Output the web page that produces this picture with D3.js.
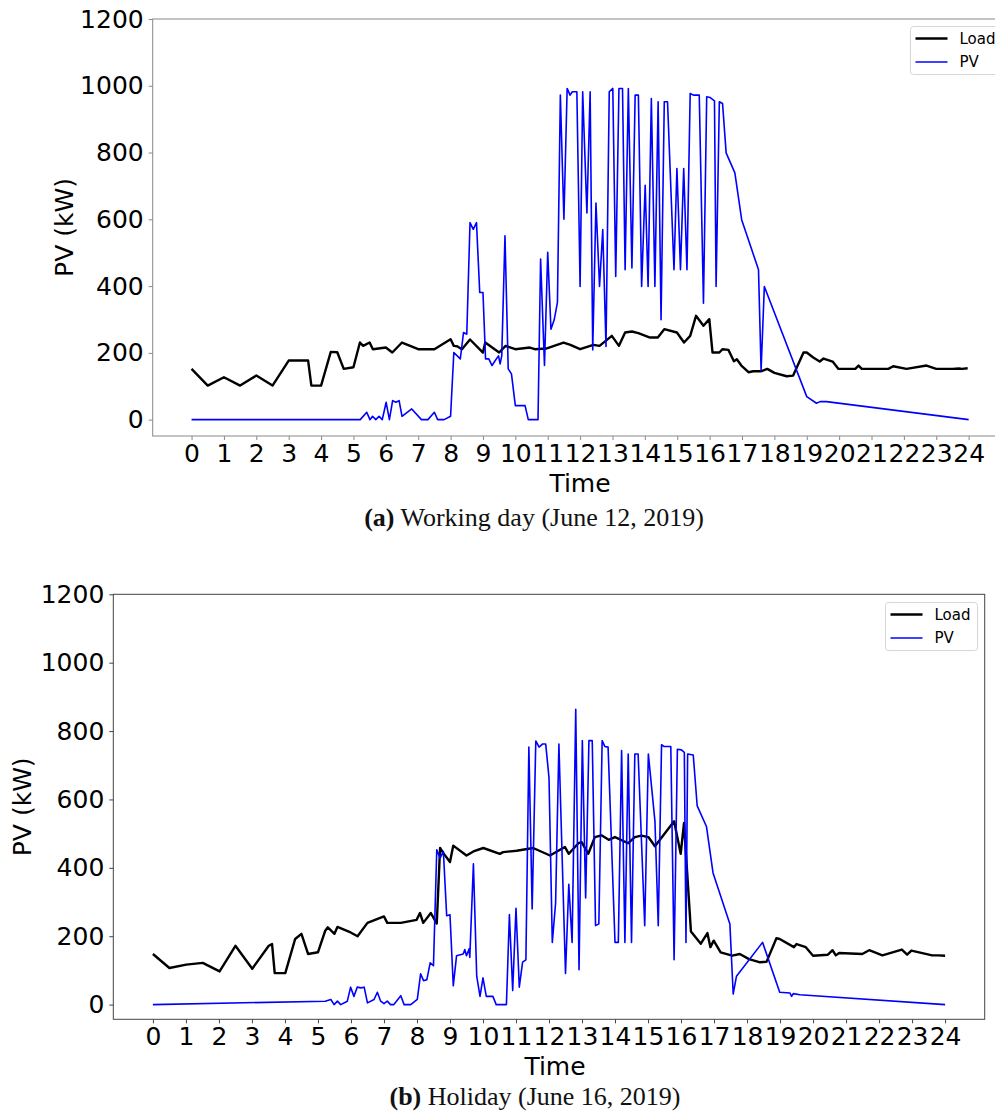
<!DOCTYPE html>
<html>
<head>
<meta charset="utf-8">
<script src="https://cdn.jsdelivr.net/npm/d3@7/dist/d3.min.js"></script>
<style>
  html, body { margin: 0; padding: 0; background: #fff; }
  svg { display: block; }
</style>
</head>
<body>
<svg id="chart" width="995" height="1111"></svg>
<script>
// ---------- DATA ----------
const xTicks = d3.range(0, 25);
const yTicks = [0, 200, 400, 600, 800, 1000, 1200];
const seriesNames = ["Load", "PV"];

// (a) Working day (June 12, 2019)
const loadA_t = [0,0.5,1,1.5,2,2.5,3,3.6,3.7,4,4.3,4.5,4.7,5,5.2,5.3,5.5,5.6,6,6.2,6.5,7,7.5,8,8.1,8.2,8.35,8.6,9,9.07,9.5,9.7,10,10.45,10.6,10.95,11.49,11.7,12.0,12.41,12.6,12.98,13.2,13.39,13.6,13.8,14.16,14.4,14.6,14.99,15.21,15.4,15.58,15.81,15.99,16.09,16.3,16.4,16.58,16.75,16.84,16.98,17.2,17.35,17.6,17.78,18.0,18.38,18.58,18.9,19.0,19.2,19.4,19.52,19.8,19.98,20.5,20.6,20.7,21.52,21.67,22.08,22.7,23.0,23.5,23.7,23.8,23.97];
const loadA_v = [152,102,127,102,132,102,177,177,102,102,203,202,152,157,231,221,231,211,216,201,231,211,211,241,221,220,211,240,201,231,201,221,211,216,211,213,231,224,211,224,221,251,221,261,264,259,246,246,271,261,231,251,311,281,301,201,201,211,209,175,181,162,142,145,145,152,140,130,132,201,201,186,174,183,174,152,152,162,152,152,160,152,162,152,152,153,152,154];
const pvA_t = [0,5.21,5.41,5.51,5.59,5.69,5.79,5.89,6.01,6.11,6.21,6.31,6.41,6.5,6.8,7.1,7.3,7.5,7.6,7.8,8.0,8.1,8.3,8.4,8.5,8.6,8.7,8.8,8.9,9.0,9.08,9.18,9.28,9.38,9.48,9.53,9.58,9.68,9.78,9.88,10.0,10.3,10.4,10.7,10.78,10.9,11.0,11.1,11.2,11.3,11.39,11.5,11.6,11.69,11.76,11.9,12.0,12.08,12.21,12.31,12.39,12.49,12.6,12.7,12.8,12.9,13.01,13.1,13.2,13.31,13.39,13.49,13.6,13.7,13.8,13.9,14.01,14.1,14.2,14.31,14.41,14.5,14.6,14.7,14.9,14.99,15.1,15.2,15.3,15.4,15.5,15.68,15.81,15.91,16.01,16.15,16.2,16.3,16.4,16.51,16.78,16.99,17.51,17.59,17.69,19.0,19.3,19.41,19.61,24.0];
const pvA_v = [0,0,22,0,10,0,10,0,52,0,57,52,57,10,32,0,0,22,0,0,10,201,182,261,256,590,570,590,381,381,182,182,162,177,191,167,191,551,152,137,42,42,0,0,481,162,501,271,299,351,972,600,992,972,982,982,399,982,619,982,209,649,399,569,219,982,992,429,992,992,449,992,454,972,972,399,702,399,962,399,952,299,952,952,449,752,449,752,449,977,972,972,349,967,965,955,399,952,947,799,739,599,449,149,399,69,49,54,54,0];

// (b) Holiday (June 16, 2019)
const loadB_t = [0,0.5,1.01,1.51,2.02,2.5,3.01,3.51,3.61,3.69,4.01,4.31,4.5,4.7,5.0,5.22,5.3,5.5,5.59,5.99,6.2,6.5,7.0,7.1,7.51,7.99,8.09,8.19,8.42,8.6,8.7,8.8,9.0,9.1,9.5,9.71,10.01,10.51,10.61,11.02,11.52,12.03,12.48,12.6,12.89,12.99,13.19,13.39,13.59,13.81,14.0,14.4,14.6,14.8,15.01,15.21,15.79,15.99,16.09,16.3,16.6,16.8,16.89,16.99,17.2,17.55,17.78,18.06,18.37,18.59,18.89,18.99,19.42,19.5,19.78,20.0,20.45,20.59,20.69,20.79,21.49,21.7,22.1,22.69,22.85,22.98,23.61,23.79,24.0];
const loadB_v = [148,107,117,122,97,172,105,172,177,92,92,192,207,148,153,216,226,207,227,211,200,239,258,239,239,248,268,239,268,237,458,443,417,465,436,448,458,441,446,450,458,436,461,441,472,475,441,490,495,482,490,472,490,494,490,463,536,441,531,214,178,209,168,187,153,143,148,133,124,125,194,192,168,177,168,143,146,159,144,151,148,159,144,161,146,158,144,144,143];
const pvB_t = [0,5.22,5.39,5.49,5.59,5.69,5.89,5.99,6.09,6.19,6.3,6.4,6.5,6.7,6.8,6.9,7.0,7.1,7.2,7.3,7.51,7.61,7.81,8.01,8.11,8.2,8.3,8.4,8.5,8.6,8.7,8.8,8.9,9.0,9.1,9.2,9.4,9.45,9.5,9.58,9.6,9.71,9.81,9.91,10.0,10.1,10.3,10.4,10.71,10.8,10.9,11.0,11.1,11.2,11.3,11.39,11.49,11.6,11.7,11.8,11.9,12.0,12.1,12.2,12.3,12.5,12.6,12.7,12.81,12.91,13.01,13.11,13.21,13.31,13.41,13.51,13.61,13.69,13.79,14.0,14.1,14.2,14.3,14.4,14.5,14.6,14.7,14.9,15.01,15.21,15.31,15.41,15.48,15.69,15.79,15.89,16.01,16.1,16.15,16.2,16.37,16.49,16.77,16.97,17.48,17.58,17.68,18.47,18.99,19.3,19.35,19.4,19.6,24.0];
const pvB_v = [0,10,15,0,10,0,10,51,24,51,49,51,5,15,36,10,3,10,0,0,26,0,0,15,90,70,73,122,114,453,428,448,260,263,55,143,148,161,143,163,138,412,83,24,78,24,24,0,0,263,41,282,51,124,131,753,280,771,753,762,762,664,182,297,762,91,352,182,864,102,772,312,772,772,231,236,772,755,753,182,182,743,182,733,182,733,733,231,733,536,231,760,755,755,131,747,745,738,182,733,730,581,521,385,236,31,83,182,36,34,24,32,29,0];

// ---------- DRAW ----------
const svg = d3.select("#chart");
const sans = "'DejaVu Sans', sans-serif";
const serif = "'Liberation Serif', 'Times New Roman', serif";

function drawPanel(cfg) {
  const x = d3.scaleLinear().domain([-1.2, 25.2]).range([cfg.left, cfg.right]);
  const y = d3.scaleLinear().domain([cfg.yMin, 1200]).range([cfg.bottom, cfg.top]);
  const g = svg.append("g");

  const line = d3.line().x(d => x(d[0])).y(d => y(d[1]));
  const loadData = cfg.loadT.map((t, i) => [t, cfg.loadV[i]]);
  const pvData = cfg.pvT.map((t, i) => [t, cfg.pvV[i]]);

  g.append("path").datum(loadData).attr("d", line)
    .attr("fill", "none").attr("stroke", "#000").attr("stroke-width", 2.4)
    .attr("stroke-linejoin", "round");
  g.append("path").datum(pvData).attr("d", line)
    .attr("fill", "none").attr("stroke", "#0000ff").attr("stroke-width", 1.6)
    .attr("stroke-linejoin", "round");

  // frame
  g.append("rect").attr("x", cfg.left).attr("y", cfg.top)
    .attr("width", cfg.right - cfg.left).attr("height", cfg.bottom - cfg.top)
    .attr("fill", "none").attr("stroke", cfg.spine).attr("stroke-width", 1);

  const xAxis = g.append("g").attr("transform", `translate(0,${cfg.bottom})`)
    .call(d3.axisBottom(x).tickValues(xTicks).tickFormat(d3.format("d")).tickSize(4).tickPadding(4));
  const yAxis = g.append("g").attr("transform", `translate(${cfg.left},0)`)
    .call(d3.axisLeft(y).tickValues(yTicks).tickFormat(d3.format("d")).tickSize(4).tickPadding(5));
  [xAxis, yAxis].forEach(a => {
    a.select(".domain").remove();
    a.selectAll(".tick line").attr("stroke", cfg.spine);
    a.selectAll(".tick text").attr("fill", "#000")
      .style("font-family", sans).style("font-size", "25px");
  });

  g.append("text").attr("x", cfg.xlabelX).attr("y", cfg.bottom + 56)
    .attr("text-anchor", "middle").style("font-family", sans).style("font-size", "25px")
    .text("Time");
  g.append("text").attr("transform", `translate(${cfg.ylabelX},${(cfg.top + cfg.bottom) / 2}) rotate(-90)`)
    .attr("text-anchor", "middle").attr("dy", "0.35em")
    .style("font-family", sans).style("font-size", "25px").text("PV (kW)");

  const cap = g.append("text").attr("x", cfg.capX).attr("y", cfg.capY)
    .attr("text-anchor", "middle").style("font-family", serif).style("font-size", "26px")
    .attr("fill", "#111");
  cap.append("tspan").style("font-weight", "bold").text("(" + cfg.capLetter + ")");
  cap.append("tspan").text(" " + cfg.capText);

  // legend
  const lg = g.append("g");
  lg.append("rect").attr("x", cfg.legX).attr("y", cfg.legY).attr("width", cfg.legW).attr("height", 48)
    .attr("rx", 3).attr("fill", "#fff").attr("fill-opacity", 0.8)
    .attr("stroke", "#d6d6d6").attr("stroke-width", 1);
  const colors = ["#000", "#0000ff"], widths = [2.4, 1.6];
  seriesNames.forEach((name, i) => {
    const yy = cfg.legY + 12 + i * 23.5;
    lg.append("line").attr("x1", cfg.legX + 5).attr("x2", cfg.legX + 37)
      .attr("y1", yy).attr("y2", yy).attr("stroke", colors[i]).attr("stroke-width", widths[i]);
    lg.append("text").attr("x", cfg.legX + 49).attr("y", yy).attr("dy", "0.36em")
      .style("font-family", sans).style("font-size", "15px").attr("fill", "#000").text(name);
  });
}

drawPanel({
  left: 152.7, right: 1007.5, top: 19, bottom: 436, yMin: -49, spine: "#888",
  loadT: loadA_t, loadV: loadA_v, pvT: pvA_t, pvV: pvA_v,
  xlabelX: 580, ylabelX: 64, capX: 534, capY: 526, capLetter: "a", capText: "Working day (June 12, 2019)",
  legX: 910.5, legY: 26.5, legW: 90
});
drawPanel({
  left: 113.3, right: 984.7, top: 594.3, bottom: 1019.3, yMin: -43, spine: "#444",
  loadT: loadB_t, loadV: loadB_v, pvT: pvB_t, pvV: pvB_v,
  xlabelX: 555, ylabelX: 22, capX: 535, capY: 1105, capLetter: "b", capText: "Holiday (June 16, 2019)",
  legX: 885.5, legY: 602.5, legW: 92
});
</script>
</body>
</html>
